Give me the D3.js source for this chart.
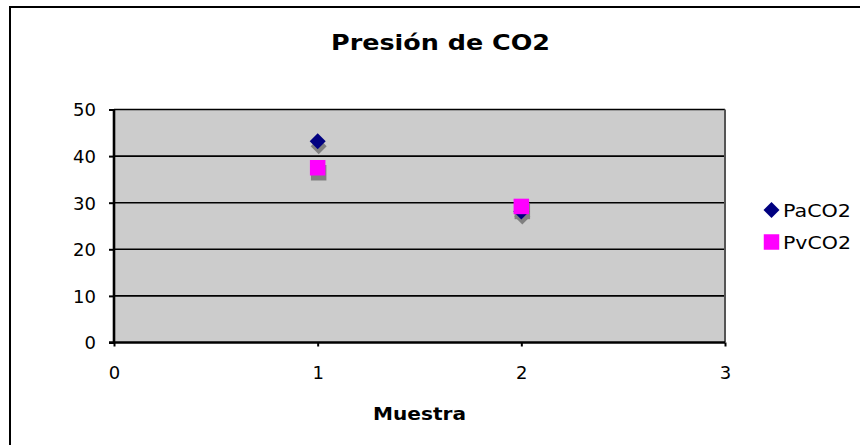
<!DOCTYPE html>
<html>
<head>
<meta charset="utf-8">
<script src="https://cdn.jsdelivr.net/npm/d3@7"></script>
<style>
  html, body { margin: 0; padding: 0; background: #ffffff; }
  svg { display: block; }
  text { font-family: "DejaVu Sans", Verdana, sans-serif; fill: #000; }
</style>
</head>
<body>
<svg id="chart" width="860" height="445"></svg>
<script>
// Sample numbers (x) and CO2 pressures for each series
const muestras = [1, 2];
const paCO2 = [43.2, 28.1];
const pvCO2 = [37.5, 29.2];
const xTicks = [0, 1, 2, 3];
const yTicks = [0, 10, 20, 30, 40, 50];
const seriesNames = ["PaCO2", "PvCO2"];
const chartTitle = "Presión de CO2";
const xTitle = "Muestra";

const svg = d3.select("#chart");

// chart frame (continues past the right and bottom edges)
svg.append("rect")
  .attr("x", 10).attr("y", 7)
  .attr("width", 900).attr("height", 500)
  .attr("fill", "#fff")
  .attr("stroke", "#000").attr("stroke-width", 2);

const plot = { left: 114, right: 725, top: 109.5, bottom: 342.5 };
const x = d3.scaleLinear().domain([0, 3]).range([plot.left, plot.right]);
const y = d3.scaleLinear().domain([0, 50]).range([plot.bottom, plot.top]);

// plot area background
svg.append("rect")
  .attr("x", plot.left).attr("y", plot.top)
  .attr("width", plot.right - plot.left)
  .attr("height", plot.bottom - plot.top)
  .attr("fill", "#cccccc");

// horizontal gridlines
svg.append("g")
  .selectAll("line")
  .data(yTicks.filter(d => d > 0))
  .join("line")
  .attr("x1", plot.left).attr("x2", plot.right)
  .attr("y1", d => y(d)).attr("y2", d => y(d))
  .attr("stroke", "#000").attr("stroke-width", 1.6);

// right border of plot area
svg.append("line")
  .attr("x1", plot.right).attr("x2", plot.right)
  .attr("y1", plot.top).attr("y2", plot.bottom)
  .attr("stroke", "#555").attr("stroke-width", 2);

// y axis
const yAxis = d3.axisLeft(y).tickValues(yTicks).tickSize(5).tickPadding(13);
const gy = svg.append("g").attr("transform", `translate(${plot.left},0)`).call(yAxis);
gy.select(".domain").attr("stroke", "#000").attr("stroke-width", 2.6)
  .attr("d", `M0,${plot.top}V${plot.bottom}`);
gy.selectAll(".tick line").attr("stroke", "#000").attr("stroke-width", 2);
gy.selectAll(".tick text")
  .attr("font-family", "DejaVu Sans, Verdana, sans-serif")
  .attr("font-size", 18).attr("fill", "#000")
  .attr("dy", "0.36em");

// x axis
const xAxis = d3.axisBottom(x).tickValues(xTicks).tickFormat(d3.format("d"))
  .tickSize(4).tickPadding(20);
const gx = svg.append("g").attr("transform", `translate(0,${plot.bottom})`).call(xAxis);
gx.select(".domain").attr("stroke", "#000").attr("stroke-width", 2.6)
  .attr("d", `M${plot.left - 5},0H${plot.right}`);
gx.selectAll(".tick line").attr("stroke", "#000").attr("stroke-width", 2);
gx.selectAll(".tick text")
  .attr("font-family", "DejaVu Sans, Verdana, sans-serif")
  .attr("font-size", 18).attr("fill", "#000");

// markers
const diamond = d3.symbol().type(d3.symbolSquare).size(128);
const square = d3.symbol().type(d3.symbolSquare).size(240);
const shadow = { dx: 1, dy: 5, color: "#808080" };

const paPts = muestras.map((m, i) => ({ x: m, y: paCO2[i] }));
const pvPts = muestras.map((m, i) => ({ x: m, y: pvCO2[i] }));

// drop shadows sit beneath every marker
const shadows = svg.append("g").attr("fill", shadow.color);
shadows.selectAll(".sd").data(paPts).join("path")
  .attr("d", diamond)
  .attr("transform", d => `translate(${x(d.x) + shadow.dx},${y(d.y) + shadow.dy}) rotate(45)`);
shadows.selectAll(".ss").data(pvPts).join("path")
  .attr("d", square)
  .attr("transform", d => `translate(${x(d.x) + shadow.dx},${y(d.y) + shadow.dy})`);

svg.append("g").selectAll("path").data(paPts).join("path")
  .attr("d", diamond).attr("fill", "#000080")
  .attr("transform", d => `translate(${x(d.x)},${y(d.y)}) rotate(45)`);
svg.append("g").selectAll("path").data(pvPts).join("path")
  .attr("d", square).attr("fill", "#ff00ff")
  .attr("transform", d => `translate(${x(d.x)},${y(d.y)})`);

// title
svg.append("text")
  .attr("x", 440.5).attr("y", 50)
  .attr("text-anchor", "middle")
  .attr("font-size", 21).attr("font-weight", "bold")
  .attr("textLength", 219).attr("lengthAdjust", "spacingAndGlyphs")
  .text(chartTitle);

// x axis title
svg.append("text")
  .attr("x", 419.5).attr("y", 420)
  .attr("text-anchor", "middle")
  .attr("font-size", 18).attr("font-weight", "bold")
  .attr("textLength", 93).attr("lengthAdjust", "spacingAndGlyphs")
  .text(xTitle);

// legend
const legend = svg.append("g");
const legendRows = [
  { name: seriesNames[0], sym: diamond, fill: "#000080", rot: 45, cy: 210 },
  { name: seriesNames[1], sym: square, fill: "#ff00ff", rot: 0, cy: 242 }
];
legendRows.forEach(r => {
  legend.append("path")
    .attr("d", r.sym).attr("fill", r.fill)
    .attr("transform", `translate(771.5,${r.cy}) rotate(${r.rot})`);
  legend.append("text")
    .attr("x", 783).attr("y", r.cy + 6.5)
    .attr("font-size", 17.5)
    .attr("textLength", 68).attr("lengthAdjust", "spacingAndGlyphs")
    .text(r.name);
});
</script>
</body>
</html>
